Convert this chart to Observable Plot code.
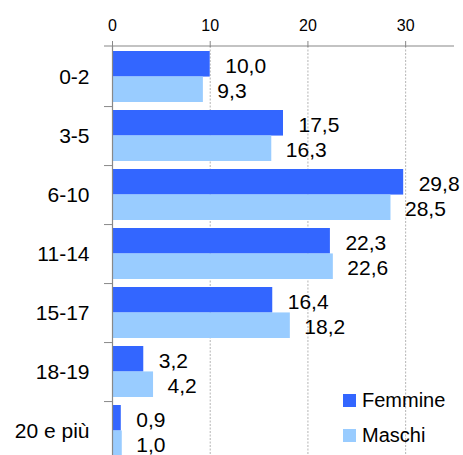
<!DOCTYPE html>
<html><head><meta charset="utf-8">
<script src="https://cdn.jsdelivr.net/npm/d3@7"></script>
<script src="https://cdn.jsdelivr.net/npm/@observablehq/plot@0.6"></script>
<style>
body{margin:0;background:#fff;font-family:"Liberation Sans",Arial,sans-serif;}
#wrap{position:relative;width:463px;height:455px;overflow:hidden;}
.legend{position:absolute;left:343px;font-size:20px;line-height:20px;color:#000;display:flex;align-items:center;}
.legend .sw{display:inline-block;width:13px;height:13px;margin-right:6px;}
</style></head><body><div id="wrap"></div>
<script>
const categories = ["0-2","3-5","6-10","11-14","15-17","18-19","20 e più"];
const femmine = [10.0,17.5,29.8,22.3,16.4,3.2,0.9];
const maschi = [9.3,16.3,28.5,22.6,18.2,4.2,1.0];
const seriesNames = ["Femmine","Maschi"];
const seriesColors = ["#3366FF","#99CCFF"];
const xTicks = [0,10,20,30];

const rowsF = categories.map((c,i)=>({cat:c, series:seriesNames[0], value:femmine[i]}));
const rowsM = categories.map((c,i)=>({cat:c, series:seriesNames[1], value:maschi[i]}));
const fmt = v => d3.format(".1f")(v).replace(".", ",");

const W=463, H=455, plotTop=46, plotBottom=460;
const padIn=0.14, padOut=0.07;
const step=(plotBottom-plotTop)/(categories.length - padIn + 2*padOut);
const bw = step*(1-padIn);
const half = bw/2;
const axisGray = "#888";

const chart = Plot.plot({
  width: W, height: H,
  marginTop: plotTop, marginBottom: 0, marginLeft: 112, marginRight: 9,
  style: {fontFamily: '"Liberation Sans", Arial, sans-serif', background: "white"},
  x: {domain: [0, 35]},
  y: {domain: categories, range: [plotTop, plotBottom], paddingInner: padIn, paddingOuter: padOut},
  marks: [
    Plot.ruleX(xTicks.filter(d => d > 0), {stroke: "#b5b5b5", strokeDasharray: "2,1.5"}),
    Plot.barX(rowsF, {x: "value", y: "cat", fill: seriesColors[0], insetBottom: half}),
    Plot.barX(rowsM, {x: "value", y: "cat", fill: seriesColors[1], insetTop: half}),
    Plot.text(rowsF, {x: "value", y: "cat", text: d => fmt(d.value), textAnchor: "start", dx: 15, dy: -half/2 + 2, fontSize: 21, fill: "black"}),
    Plot.text(rowsM, {x: "value", y: "cat", text: d => fmt(d.value), textAnchor: "start", dx: 14, dy: half/2 + 2, fontSize: 21, fill: "black"}),
    Plot.ruleX([0], {stroke: axisGray, strokeWidth: 1.2}),
    Plot.axisX({anchor: "top", ticks: xTicks, tickSize: 6, tickPadding: 10, fontSize: 16, stroke: axisGray, fill: "black", label: null}),
    Plot.axisY({anchor: "left", tickSize: 0, tickPadding: 23, fontSize: 21, fill: "black", label: null}),
    Plot.axisY({anchor: "left", tickSize: 8, tickFormat: () => "", dy: step/2, stroke: axisGray, label: null})
  ]
});

// top axis line, derived from the scales' ranges
const xr = chart.scale("x").range;
d3.select(chart).append("line")
  .attr("x1", xr[0] - 8).attr("x2", xr[1])
  .attr("y1", plotTop).attr("y2", plotTop)
  .attr("stroke", axisGray).attr("stroke-width", 1.2);

const wrap = document.getElementById("wrap");
wrap.appendChild(chart);

seriesNames.forEach((name, i) => {
  const div = document.createElement("div");
  div.className = "legend";
  div.style.top = (390 + i * 35) + "px";
  div.innerHTML = `<span class="sw" style="background:${seriesColors[i]}"></span>${name}`;
  wrap.appendChild(div);
});
</script></body></html>
